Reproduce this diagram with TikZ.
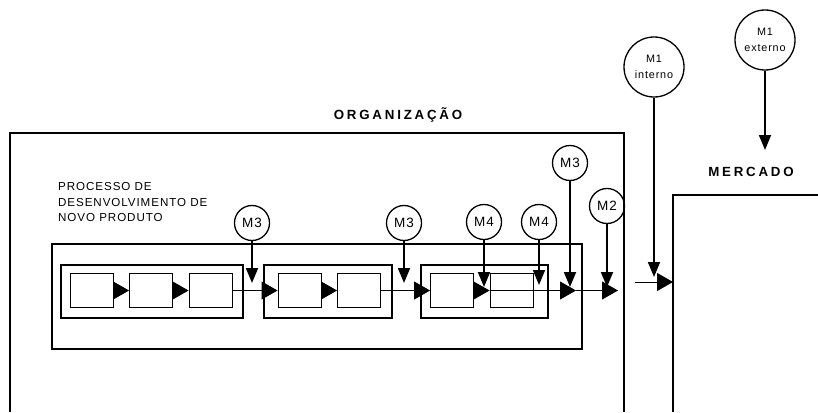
\documentclass[tikz,border=0pt]{standalone}
\usepackage{fontspec}
\setmainfont{Liberation Sans}[LetterSpace=8]
\newfontfamily\titulo{Liberation Sans}[LetterSpace=21]
\usetikzlibrary{arrows.meta}

\begin{document}
\begin{tikzpicture}[x=1pt, y=-1pt,
    etapa/.style={draw, line width=0.9pt, minimum width=43pt, minimum height=34pt, inner sep=0pt},
    medida/.style={draw, circle, line width=1.3pt, minimum size=35pt, inner sep=0pt, font=\fontsize{13.5}{15}\selectfont},
    medidagr/.style={medida, minimum size=60pt, align=center, font=\fontsize{10.8}{16}\selectfont},
    seta/.style={-{Triangle[length=16pt, width=18pt]}, line width=0.9pt},
    medir/.style={-{Triangle[length=15pt, width=12pt]}, line width=1.8pt},
    caixa/.style={line width=1.1pt}]
    \useasboundingbox (0,0) rectangle (818,412);
    % Organizacao e mercado
    \draw[caixa] (10,412) -- (10,133) -- (624,133) -- (624,412);
    \draw[caixa] (673,412) -- (673,195) -- (818,195);
    \node[anchor=base, font={\fontsize{13.3}{15}\titulo\bfseries}] (org) at (398,119) {ORGANIZAÇÃO};
    \node[anchor=base, font={\fontsize{13.3}{15}\titulo\bfseries}] (mer) at (751,176) {MERCADO};
    % Processo
    \draw[caixa] (52,244) rectangle (582,349);
    \node[anchor=north west, align=left, inner sep=0pt, font=\fontsize{11.6}{15.3}\selectfont] (pdnp) at (58,182.5) {PROCESSO DE\\DESENVOLVIMENTO DE\\NOVO PRODUTO};
    % Fases
    \draw[caixa] (61,265) rectangle (243,318);
    \draw[caixa] (264,265) rectangle (392,318);
    \draw[caixa] (421,265) rectangle (548,318);
    % Etapas
    \foreach \n/\x in {1/92,2/151,3/210.5,4/299.5,5/359,6/452,7/511.5}
        \node[etapa] (e\n) at (\x,290.5) {};
    \foreach \a/\b in {1/2,2/3,3/4,4/5,5/6,6/7}
        \draw[seta] (e\a) -- (e\b);
    \coordinate (j1) at (576,290.5);
    \coordinate (j2) at (618,290.5);
    \draw[seta] (e7.west) -- (j1);
    \draw[seta] (j1) -- (j2);
    % Entrada no mercado
    \coordinate (ent) at (635,282);
    \coordinate (merc) at (673,282);
    \draw[seta] (ent) -- (merc);
    % Medidas
    \foreach \nome/\x/\y/\rot in {m3a/252/223/M3, m3b/404/223/M3, m4a/484/222/M4, m4b/539/222/M4, m3c/570/163/M3, m2/607/206/M2}
        \node[medida] (\nome) at (\x,\y) {\rot};
    \node[medidagr] (m1i) at (654,67) {M1\\interno};
    \node[medidagr] (m1e) at (765,40) {M1\\externo};
    \foreach \nome/\x/\y in {p1/252/283, p2/404/283, p3/484/287, p4/539/285, p5/570/287, p6/607/287, p7/654/277, p8/765/150}
        \coordinate (\nome) at (\x,\y);
    \foreach \a/\b in {m3a/p1, m3b/p2, m4a/p3, m4b/p4, m3c/p5, m2/p6, m1i/p7, m1e/p8}
        \draw[medir] (\a) -- (\b);
\end{tikzpicture}
\end{document}
